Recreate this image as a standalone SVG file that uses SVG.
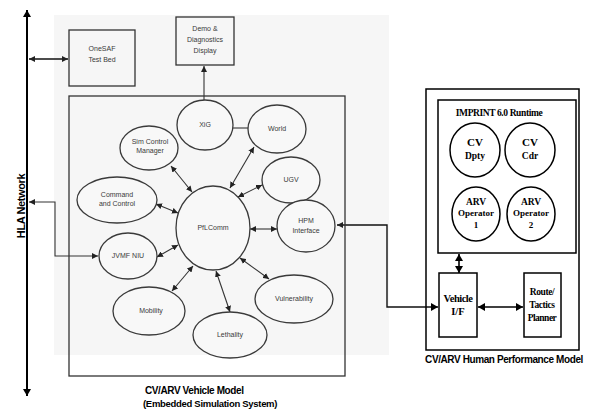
<svg xmlns="http://www.w3.org/2000/svg" width="589" height="412" viewBox="0 0 589 412">
<style>
.box{fill:none;stroke:#333;stroke-width:1.3}
.ell{fill:#f8f8f8;stroke:#3a3a3a;stroke-width:1.3}
.bk{fill:none;stroke:#000;stroke-width:1.6}
.ln{fill:none;stroke:#333;stroke-width:1.1}
.t{font-family:"Liberation Sans",Arial,sans-serif;font-size:7px;fill:#3a3a3a;text-anchor:middle}
.s{font-family:"Liberation Serif","Times New Roman",serif;font-weight:bold;fill:#000;text-anchor:middle}
.lab{font-family:"Liberation Sans",Arial,sans-serif;font-weight:bold;font-size:9.5px;fill:#000;letter-spacing:-0.3px}
</style>
<defs>
<marker id="ah" markerUnits="userSpaceOnUse" markerWidth="7" markerHeight="6" refX="6" refY="3" orient="auto-start-reverse">
<path d="M0,0 L6,3 L0,6 z" fill="#222"/>
</marker>
<marker id="ahb" markerUnits="userSpaceOnUse" markerWidth="8" markerHeight="8" refX="7" refY="4" orient="auto-start-reverse">
<path d="M0,0 L7,4 L0,8 z" fill="#000"/>
</marker>
</defs>
<rect x="0" y="0" width="589" height="412" fill="#fff"/>
<rect x="54" y="15" width="335" height="340" fill="#f6f6f6"/>

<g id="connectors">
<path d="M27,396 V10" style="fill:none;stroke:#000;stroke-width:2" marker-start="url(#ahb)" marker-end="url(#ahb)"/>
<path class="ln" d="M29,59 H68" style="stroke:#111;stroke-width:1.5" marker-start="url(#ah)" marker-end="url(#ah)"/>
<path class="ln" d="M29,202 H55 V256 H98" marker-start="url(#ah)" marker-end="url(#ah)"/>
<path class="ln" d="M204,100 V66" marker-end="url(#ah)"/>
<path class="ln" d="M233,128 H248"/>
<path class="ln" d="M171,166 L192,192" marker-start="url(#ah)" marker-end="url(#ah)"/>
<path class="ln" d="M156,204 L178,213" marker-start="url(#ah)" marker-end="url(#ah)"/>
<path class="ln" d="M157,257 L178,245" marker-start="url(#ah)" marker-end="url(#ah)"/>
<path class="ln" d="M172,291 L193,266" marker-start="url(#ah)" marker-end="url(#ah)"/>
<path class="ln" d="M216,271 L230,312" marker-start="url(#ah)" marker-end="url(#ah)"/>
<path class="ln" d="M240,258 L269,279" marker-start="url(#ah)" marker-end="url(#ah)"/>
<path class="ln" d="M250,229 H277" marker-start="url(#ah)" marker-end="url(#ah)"/>
<path class="ln" d="M238,197 L262,185" marker-start="url(#ah)" marker-end="url(#ah)"/>
<path class="ln" d="M230,188 L254,147" marker-start="url(#ah)" marker-end="url(#ah)"/>
<path class="ln" d="M337,225 H387 V307 H438" style="stroke:#111;stroke-width:1.4" marker-start="url(#ah)" marker-end="url(#ahb)"/>
<path class="bk" d="M459,254 V273" marker-start="url(#ahb)" marker-end="url(#ahb)"/>
<path class="bk" d="M478,307 H523" marker-start="url(#ahb)" marker-end="url(#ahb)"/>
</g>

<g id="hla-label">
<text class="lab" transform="translate(25,206) rotate(-90)" text-anchor="middle" style="font-size:11px;letter-spacing:-0.4px">HLA Network</text>
</g>

<g id="onesaf">
<rect class="box" x="69" y="30" width="66" height="56"/>
<text class="t" x="102" y="51">OneSAF</text>
<text class="t" x="102" y="62">Test Bed</text>
</g>

<g id="demo">
<rect class="box" x="176" y="17" width="58" height="48"/>
<text class="t" x="205" y="31">Demo &amp;</text>
<text class="t" x="205" y="42">Diagnostics</text>
<text class="t" x="205" y="53">Display</text>
</g>

<g id="vehicle-model">
<rect class="box" x="69" y="96" width="276" height="280"/>
<text class="lab" x="145" y="394" style="font-size:10px;letter-spacing:-0.4px">CV/ARV Vehicle Model</text>
<text class="lab" x="143" y="407">(Embedded Simulation System)</text>
</g>

<g id="xig"><ellipse class="ell" cx="205" cy="125" rx="28" ry="25"/><text class="t" x="205" y="127">XiG</text></g>
<g id="world"><ellipse class="ell" cx="277" cy="129" rx="29" ry="24"/><text class="t" x="277" y="131">World</text></g>
<g id="ugv"><ellipse class="ell" cx="291" cy="180" rx="29" ry="23"/><text class="t" x="291" y="182">UGV</text></g>
<g id="hpm"><ellipse class="ell" cx="306" cy="226" rx="29" ry="26"/><text class="t" x="306" y="223">HPM</text><text class="t" x="306" y="233">Interface</text></g>
<g id="vulnerability"><ellipse class="ell" cx="294" cy="299" rx="39" ry="24"/><text class="t" x="294" y="301">Vulnerability</text></g>
<g id="lethality"><ellipse class="ell" cx="230" cy="335" rx="37" ry="23"/><text class="t" x="230" y="337">Lethality</text></g>
<g id="mobility"><ellipse class="ell" cx="149" cy="311" rx="36" ry="24"/><text class="t" x="151" y="313">Mobility</text></g>
<g id="jvmf"><ellipse class="ell" cx="128" cy="256" rx="29" ry="23"/><text class="t" x="128" y="258">JVMF NIU</text></g>
<g id="c2"><ellipse class="ell" cx="117" cy="200" rx="40" ry="23"/><text class="t" x="117" y="197">Command</text><text class="t" x="117" y="206">and Control</text></g>
<g id="simctrl"><ellipse class="ell" cx="149" cy="148" rx="29" ry="22"/><text class="t" x="150" y="144">Sim Control</text><text class="t" x="150" y="153">Manager</text></g>
<g id="plcomm"><ellipse class="ell" cx="213" cy="228" rx="37" ry="42"/><text class="t" x="213" y="230">PfLComm</text></g>

<g id="hpm-model">
<rect x="426" y="89" width="153" height="261" style="fill:none;stroke:#000;stroke-width:1.5"/>
<text class="lab" x="504" y="363" text-anchor="middle" style="font-size:10px;letter-spacing:-0.4px">CV/ARV Human Performance  Model</text>
</g>
<g id="imprint">
<rect x="438" y="100" width="138" height="153" style="fill:none;stroke:#000;stroke-width:1.5"/>
<text class="s" x="499" y="116" style="font-size:9.5px;letter-spacing:-0.4px">IMPRINT 6.0 Runtime</text>
</g>
<g id="cv-dpty"><ellipse cx="475" cy="150" rx="25" ry="27" style="fill:#fff;stroke:#000;stroke-width:1.5"/><text class="s" x="475" y="146" style="font-size:11px">CV</text><text class="s" x="475" y="159" style="font-size:9.5px">Dpty</text></g>
<g id="cv-cdr"><ellipse cx="530" cy="150" rx="25" ry="27" style="fill:#fff;stroke:#000;stroke-width:1.5"/><text class="s" x="530" y="146" style="font-size:11px">CV</text><text class="s" x="530" y="159" style="font-size:9.5px">Cdr</text></g>
<g id="arv-op1"><ellipse cx="476" cy="214" rx="24" ry="27" style="fill:#fff;stroke:#000;stroke-width:1.5"/><text class="s" x="476" y="205" style="font-size:9.5px">ARV</text><text class="s" x="476" y="216" style="font-size:9px">Operator</text><text class="s" x="476" y="228" style="font-size:9px">1</text></g>
<g id="arv-op2"><ellipse cx="531" cy="214" rx="24" ry="27" style="fill:#fff;stroke:#000;stroke-width:1.5"/><text class="s" x="531" y="205" style="font-size:9.5px">ARV</text><text class="s" x="531" y="216" style="font-size:9px">Operator</text><text class="s" x="531" y="228" style="font-size:9px">2</text></g>
<g id="vehicle-if"><rect x="439" y="273" width="38" height="64" style="fill:#fff;stroke:#000;stroke-width:1.5"/><text class="s" x="458" y="302" style="font-size:10.5px;letter-spacing:-0.5px">Vehicle</text><text class="s" x="458" y="315" style="font-size:10.5px">I/F</text></g>
<g id="route"><rect x="524" y="273" width="37" height="64" style="fill:#fff;stroke:#000;stroke-width:1.5"/><text class="s" x="542" y="295" style="font-size:9.5px;letter-spacing:-0.4px">Route/</text><text class="s" x="542" y="308" style="font-size:9.5px;letter-spacing:-0.4px">Tactics</text><text class="s" x="542" y="321" style="font-size:9.5px;letter-spacing:-0.5px">Planner</text></g>
</svg>
